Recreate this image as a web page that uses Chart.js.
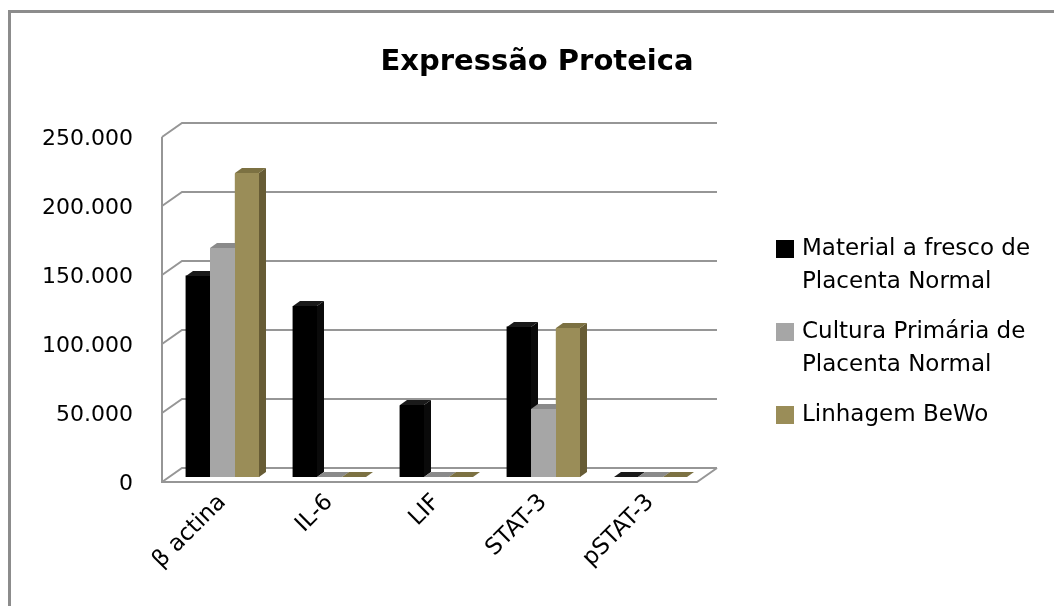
<!DOCTYPE html>
<html lang="pt">
<head>
  <meta charset="UTF-8">
  <title>Expressão Proteica</title>
  <script src="https://cdn.jsdelivr.net/npm/chart.js"></script>
  <style>
    body { margin: 0; background: #fff; }
    #wrap { width: 1054px; height: 606px; }
  </style>
</head>
<body>
  <div id="wrap"><canvas id="chart" width="1054" height="606"></canvas></div>

  <script>
    const categories = ['β actina', 'IL-6', 'LIF', 'STAT-3', 'pSTAT-3'];
    const materialFresco = [146000, 124000, 52000, 109000, 0];
    const culturaPrimaria = [166000, 0, 0, 49000, 0];
    const linhagemBeWo = [220000, 0, 0, 108000, 0];
    const seriesLabels = [
      ['Material a fresco de', 'Placenta Normal'],
      ['Cultura Primária de', 'Placenta Normal'],
      ['Linhagem BeWo']
    ];
    const yTicks = [0, 50000, 100000, 150000, 200000, 250000];

    // front / top / side colours for each series
    const faceColors = [
      { front: '#000000', top: '#1a1a1a', side: '#0a0a0a' },
      { front: '#a6a6a6', top: '#8a8a8a', side: '#7a7a7a' },
      { front: '#9a8d58', top: '#7c7142', side: '#675c35' }
    ];

    const FONT = 'DejaVu Sans';
    // depth offsets: bar plane -> front edge, bar plane -> back wall, bar depth
    const FRONT = { dx: -7, dy: 5 };
    const BACK = { dx: 13, dy: -9 };
    const DEPTH = { dx: 7, dy: -5 };

    function fmt(v) {
      if (v === 0) return '0';
      return (v / 1000).toFixed(0) + '.000';
    }

    const box3d = {
      id: 'box3d',
      beforeDraw(chart) {
        const ctx = chart.ctx;
        ctx.save();
        // outer frame
        ctx.strokeStyle = '#8c8c8c';
        ctx.lineWidth = 3;
        ctx.beginPath();
        ctx.moveTo(1054, 11.5);
        ctx.lineTo(9.5, 11.5);
        ctx.lineTo(9.5, 606);
        ctx.stroke();

        // title
        ctx.fillStyle = '#000';
        ctx.font = 'bold 29px ' + FONT;
        ctx.textAlign = 'center';
        ctx.textBaseline = 'middle';
        ctx.fillText('Expressão Proteica', 537, 62);

        // legend
        ctx.font = '23px ' + FONT;
        ctx.textAlign = 'left';
        let y = 249;
        seriesLabels.forEach((lines, i) => {
          ctx.fillStyle = faceColors[i].front;
          ctx.fillRect(776, y - 9, 18, 18);
          ctx.fillStyle = '#000';
          lines.forEach((t, j) => ctx.fillText(t, 802, y + j * 33));
          y += lines.length * 33 + 17;
        });
        ctx.restore();
      },
      beforeDatasetsDraw(chart) {
        const ctx = chart.ctx;
        const ys = chart.scales.y;
        const a = chart.chartArea;
        ctx.save();
        ctx.strokeStyle = '#969696';
        ctx.lineWidth = 2;
        ctx.beginPath();
        yTicks.forEach(v => {
          const py = ys.getPixelForValue(v);
          ctx.moveTo(a.left + FRONT.dx, py + FRONT.dy);
          ctx.lineTo(a.left + BACK.dx, py + BACK.dy);
          ctx.lineTo(a.right + BACK.dx, py + BACK.dy);
        });
        const top = ys.getPixelForValue(yTicks[yTicks.length - 1]);
        const base = ys.getPixelForValue(0);
        // left wall front edge
        ctx.moveTo(a.left + FRONT.dx, top + FRONT.dy);
        ctx.lineTo(a.left + FRONT.dx, base + FRONT.dy);
        // floor front and right edge
        ctx.lineTo(a.right + FRONT.dx, base + FRONT.dy);
        ctx.lineTo(a.right + BACK.dx, base + BACK.dy);
        ctx.stroke();
        ctx.restore();
      },
      afterDatasetsDraw(chart) {
        const ctx = chart.ctx;
        const metas = chart.data.datasets.map((d, i) => chart.getDatasetMeta(i));
        ctx.save();
        categories.forEach((c, ci) => {
          metas.forEach((meta, di) => {
            const bar = meta.data[ci];
            const col = faceColors[di];
            const l = Math.round(bar.x - bar.width / 2);
            const r = Math.round(bar.x + bar.width / 2);
            const t = Math.round(bar.y);
            const b = Math.ceil(bar.base);
            // side face
            ctx.fillStyle = col.side;
            ctx.beginPath();
            ctx.moveTo(r, t);
            ctx.lineTo(r + DEPTH.dx, t + DEPTH.dy);
            ctx.lineTo(r + DEPTH.dx, b + DEPTH.dy);
            ctx.lineTo(r, b);
            ctx.closePath();
            ctx.fill();
            // top face
            ctx.fillStyle = col.top;
            ctx.beginPath();
            ctx.moveTo(l, t);
            ctx.lineTo(l + DEPTH.dx, t + DEPTH.dy);
            ctx.lineTo(r + DEPTH.dx, t + DEPTH.dy);
            ctx.lineTo(r, t);
            ctx.closePath();
            ctx.fill();
            // front face repainted over the neighbour's side
            if (b - t > 0) {
              ctx.fillStyle = col.front;
              ctx.fillRect(l, t, r - l, b - t);
            }
          });
        });
        ctx.restore();
      }
    };

    const ctx = document.getElementById('chart').getContext('2d');
    const chart = new Chart(ctx, {
      type: 'bar',
      data: {
        labels: categories,
        datasets: [
          { label: seriesLabels[0].join(' '), data: materialFresco, backgroundColor: faceColors[0].front },
          { label: seriesLabels[1].join(' '), data: culturaPrimaria, backgroundColor: faceColors[1].front },
          { label: seriesLabels[2].join(' '), data: linhagemBeWo, backgroundColor: faceColors[2].front }
        ]
      },
      options: {
        responsive: false,
        animation: false,
        layout: { padding: { left: 0, right: 350, top: 132, bottom: 0 } },
        datasets: { bar: { categoryPercentage: 0.69, barPercentage: 1 } },
        plugins: {
          legend: { display: false },
          title: { display: false },
          tooltip: { enabled: false }
        },
        scales: {
          x: {
            grid: { display: false },
            border: { display: false },
            ticks: {
              color: '#000',
              font: { family: FONT, size: 23 },
              minRotation: 45,
              maxRotation: 45,
              padding: 4
            },
            afterFit(scale) { scale.height = 129; }
          },
          y: {
            min: 0,
            max: 250000,
            grid: { display: false },
            border: { display: false },
            afterBuildTicks(scale) { scale.ticks = yTicks.map(v => ({ value: v })); },
            ticks: {
              color: '#000',
              font: { family: FONT, size: 22 },
              padding: 28,
              labelOffset: 7,
              callback: v => fmt(v)
            },
            afterFit(scale) { scale.width = 169; }
          }
        }
      },
      plugins: [box3d]
    });
  </script>
</body>
</html>
